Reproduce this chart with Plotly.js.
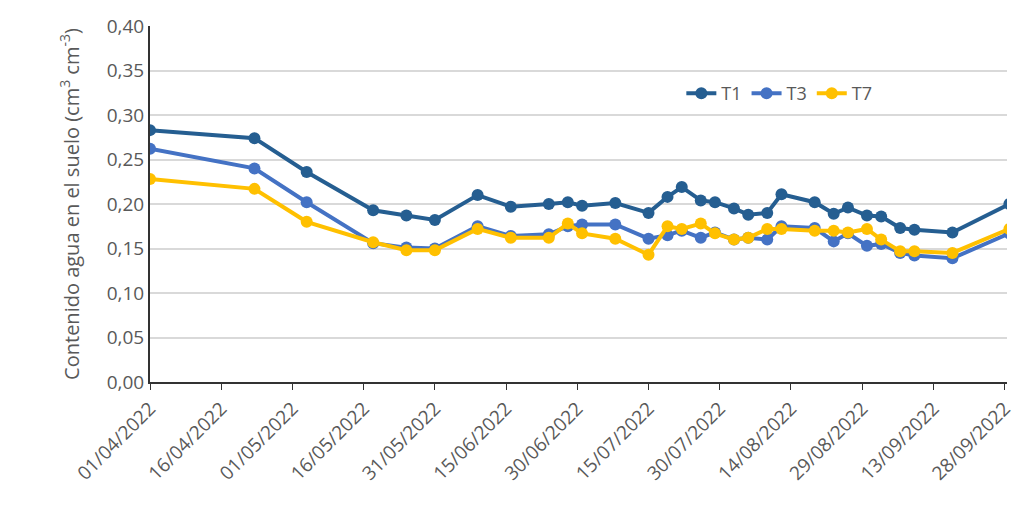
<!DOCTYPE html>
<html>
<head>
<meta charset="utf-8">
<script src="https://cdn.plot.ly/plotly-3.0.1.min.js"></script>
<style>body{margin:0;background:#fff}#chart{width:1012px;height:507px}</style>
</head>
<body>
<div id="chart"></div>
<script>
'use strict';

const dates = ['2022-04-01','2022-04-23','2022-05-04','2022-05-18','2022-05-25','2022-05-31','2022-06-09','2022-06-16',
  '2022-06-24','2022-06-28','2022-07-01','2022-07-08','2022-07-15','2022-07-19','2022-07-22','2022-07-26','2022-07-29',
  '2022-08-02','2022-08-05','2022-08-09','2022-08-12','2022-08-19','2022-08-23','2022-08-26','2022-08-30','2022-09-02',
  '2022-09-06','2022-09-09','2022-09-17','2022-09-29'];
const t1 = [0.283,0.274,0.236,0.193,0.187,0.182,0.210,0.197,0.200,0.202,0.198,0.201,0.190,0.208,0.219,0.204,0.202,
  0.195,0.188,0.190,0.211,0.202,0.189,0.196,0.187,0.186,0.173,0.171,0.168,0.200];
const t3 = [0.262,0.240,0.202,0.156,0.151,0.150,0.175,0.164,0.166,0.175,0.177,0.177,0.161,0.165,0.170,0.162,0.168,
  0.160,0.162,0.160,0.175,0.173,0.158,0.167,0.153,0.155,0.145,0.142,0.139,0.167];
const t7 = [0.228,0.217,0.180,0.157,0.148,0.148,0.172,0.162,0.162,0.178,0.167,0.161,0.143,0.175,0.172,0.178,0.167,
  0.160,0.162,0.172,0.172,0.170,0.170,0.168,0.172,0.160,0.147,0.147,0.145,0.172];
const tickDates = ['2022-04-01','2022-04-16','2022-05-01','2022-05-16','2022-05-31','2022-06-15','2022-06-30',
  '2022-07-15','2022-07-30','2022-08-14','2022-08-29','2022-09-13','2022-09-28'];
const tickLabels = tickDates.map(d => d.slice(8,10) + '/' + d.slice(5,7) + '/' + d.slice(0,4));

function series(name, y, color) {
  return {x: dates, y: y, name: name, type: 'scatter', mode: 'lines+markers',
    line: {color: color, width: 4}, marker: {color: color, size: 12}};
}

const traces = [series('T1', t1, '#255e91'), series('T3', t3, '#4472c4'), series('T7', t7, '#ffc000')];

const layout = {
  width: 1012, height: 507,
  margin: {l: 150, r: 5, t: 26, b: 125},
  font: {family: 'Open Sans, sans-serif', size: 19, color: '#595959'},
  separators: ',.',
  showlegend: true,
  legend: {orientation: 'h', x: 0.62, y: 0.81, xanchor: 'left', yanchor: 'middle',
    font: {size: 18, color: '#595959'}, traceorder: 'normal'},
  xaxis: {range: ['2022-04-01', '2022-09-28 12:00'], tickvals: tickDates, ticktext: tickLabels, tickangle: -45,
    ticklabeloverflow: 'allow',
    showgrid: false, showline: true, linecolor: '#333', linewidth: 2, ticks: 'outside', tickcolor: '#333',
    ticklen: 6, zeroline: false},
  yaxis: {range: [0, 0.4], dtick: 0.05, tickformat: '.2f', showgrid: true, gridcolor: '#d9d9d9', gridwidth: 2,
    showline: true, linecolor: '#333', linewidth: 2, zeroline: false,
    title: {text: 'Contenido agua en el suelo (cm<sup>3</sup> cm<sup>-3</sup>)', font: {size: 20, color: '#595959'}, standoff: 22}},
  plot_bgcolor: '#fff', paper_bgcolor: '#fff'
};

Plotly.newPlot('chart', traces, layout, {displayModeBar: false});
</script>
</body>
</html>
